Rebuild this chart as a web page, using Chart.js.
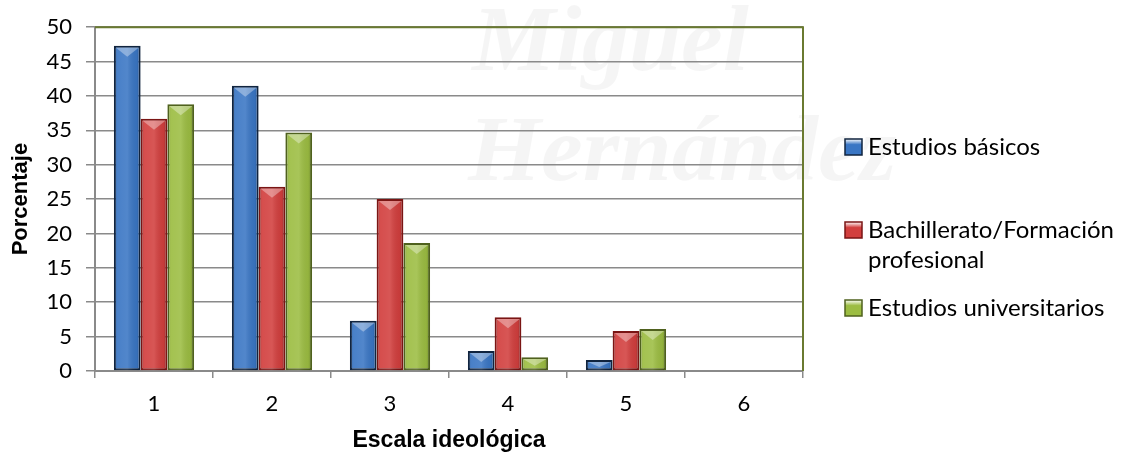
<!DOCTYPE html>
<html>
<head>
<meta charset="utf-8">
<script src="https://cdn.jsdelivr.net/npm/chart.js@4"></script>
<style>
  html, body { margin: 0; padding: 0; background: #fff; }
  #wrap { width: 1124px; height: 453px; position: relative; }
</style>
</head>
<body>
<div id="wrap"><canvas id="grafico" width="1124" height="453"></canvas></div>
<script>
// valores
const categorias = ['1', '2', '3', '4', '5', '6'];
const estudiosBasicos = [47.3, 41.5, 7.3, 2.9, 1.6, null];
const bachillerato = [36.7, 26.8, 25.0, 7.8, 5.8, null];
const universitarios = [38.8, 34.7, 18.6, 2.0, 6.1, null];
const nombresSeries = [
  ['Estudios básicos'],
  ['Bachillerato/Formación', 'profesional'],
  ['Estudios universitarios']
];
const yMin = 0, yMax = 50, yPaso = 5;

const colores = ['#3a76c4', '#d23f3e', '#9cbd42'];
const bordes = ['#10243f', '#7a1514', '#4f611e'];

// marca de agua de fondo
const marcaAgua = {
  id: 'marcaAgua',
  beforeDraw(chart) {
    const c = chart.ctx;
    c.save();
    c.fillStyle = 'rgba(0,0,0,0.04)';
    c.font = 'italic bold 94px "Liberation Serif"';
    c.textBaseline = 'alphabetic';
    c.fillText('Miguel', 472, 70);
    c.fillText('Hernández', 468, 180);
    c.restore();
  }
};

// marco verde arriba y a la derecha
const marco = {
  id: 'marco',
  beforeDatasetsDraw(chart) {
    const a = chart.chartArea, c = chart.ctx;
    c.save();
    c.strokeStyle = '#6a7a30';
    c.lineWidth = 2;
    c.beginPath();
    c.moveTo(a.left, a.top);
    c.lineTo(a.right, a.top);
    c.lineTo(a.right, a.bottom);
    c.stroke();
    c.restore();
  }
};

// brillo y bisel encima de cada barra
const bisel = {
  id: 'bisel',
  afterDatasetsDraw(chart) {
    const c = chart.ctx;
    chart.data.datasets.forEach((ds, i) => {
      const meta = chart.getDatasetMeta(i);
      meta.data.forEach((el, j) => {
        if (ds.data[j] == null) return;
        const w = el.width, l = el.x - w / 2, r = el.x + w / 2;
        const t = el.y, b = el.base;
        const g = c.createLinearGradient(l, 0, r, 0);
        g.addColorStop(0, 'rgba(0,0,0,0.18)');
        g.addColorStop(0.15, 'rgba(255,255,255,0.08)');
        g.addColorStop(0.5, 'rgba(255,255,255,0.12)');
        g.addColorStop(0.85, 'rgba(0,0,0,0.05)');
        g.addColorStop(1, 'rgba(0,0,0,0.25)');
        c.save();
        c.fillStyle = g;
        c.fillRect(l + 2, t + 2, w - 4, b - t - 2);
        const h = Math.min(9, (b - t) / 2);
        c.fillStyle = 'rgba(255,255,255,0.35)';
        c.beginPath();
        c.moveTo(l + 2, t + 2);
        c.lineTo(r - 2, t + 2);
        c.lineTo(el.x, t + 2 + h);
        c.closePath();
        c.fill();
        c.restore();
      });
    });
  }
};

// leyenda a la derecha con texto en dos lineas
const leyenda = {
  id: 'leyenda',
  afterDraw(chart) {
    const c = chart.ctx;
    const posY = [147, 230, 308];
    c.save();
    c.font = '24px Lato';
    c.textBaseline = 'middle';
    chart.data.datasets.forEach((ds, i) => {
      const y = posY[i];
      const g = c.createLinearGradient(0, y - 8, 0, y + 8);
      g.addColorStop(0, '#fff');
      g.addColorStop(0.35, ds.backgroundColor);
      g.addColorStop(1, ds.backgroundColor);
      c.fillStyle = g;
      c.fillRect(845, y - 8, 17, 16);
      c.strokeStyle = ds.borderColor;
      c.lineWidth = 1.5;
      c.strokeRect(845, y - 8, 17, 16);
      c.fillStyle = '#000';
      nombresSeries[i].forEach((linea, k) => c.fillText(linea, 868, y + k * 30));
    });
    c.restore();
  }
};

const ctx = document.getElementById('grafico');
new Chart(ctx, {
  type: 'bar',
  data: {
    labels: categorias,
    datasets: [estudiosBasicos, bachillerato, universitarios].map((d, i) => ({
      label: nombresSeries[i].join(' '),
      data: d,
      backgroundColor: colores[i],
      borderColor: bordes[i],
      borderWidth: 2,
      borderSkipped: false,
      categoryPercentage: 0.68,
      barPercentage: 1.0
    }))
  },
  options: {
    responsive: false,
    animation: false,
    layout: { padding: { top: 27, right: 321, bottom: 0, left: 0 } },
    plugins: {
      legend: { display: false },
      tooltip: { enabled: false }
    },
    scales: {
      x: {
        afterFit: (s) => { s.height = 82; },
        grid: { drawOnChartArea: false, drawTicks: true, tickLength: 7, color: '#8a8a8a', lineWidth: 1.5 },
        border: { color: '#8a8a8a', width: 2 },
        ticks: { color: '#000', font: { family: 'Lato', size: 22 }, padding: 13 },
        title: {
          display: true, text: 'Escala ideológica', color: '#000',
          font: { family: 'Liberation Sans', size: 23, weight: 'bold', lineHeight: 1.05 },
          padding: { top: 0, bottom: 0 }
        }
      },
      y: {
        min: yMin, max: yMax,
        afterFit: (s) => { s.width = 95; },
        grid: { color: '#8a8a8a', lineWidth: 1.5, tickLength: 9 },
        border: { color: '#8a8a8a', width: 2 },
        ticks: { stepSize: yPaso, color: '#000', font: { family: 'Lato', size: 22 }, padding: 14 },
        title: {
          display: true, text: 'Porcentaje', color: '#000',
          font: { family: 'Liberation Sans', size: 22, weight: 'bold', lineHeight: 1.1 },
          padding: { top: 9, bottom: 0 }
        }
      }
    }
  },
  plugins: [marcaAgua, marco, bisel, leyenda]
});
</script>
</body>
</html>
